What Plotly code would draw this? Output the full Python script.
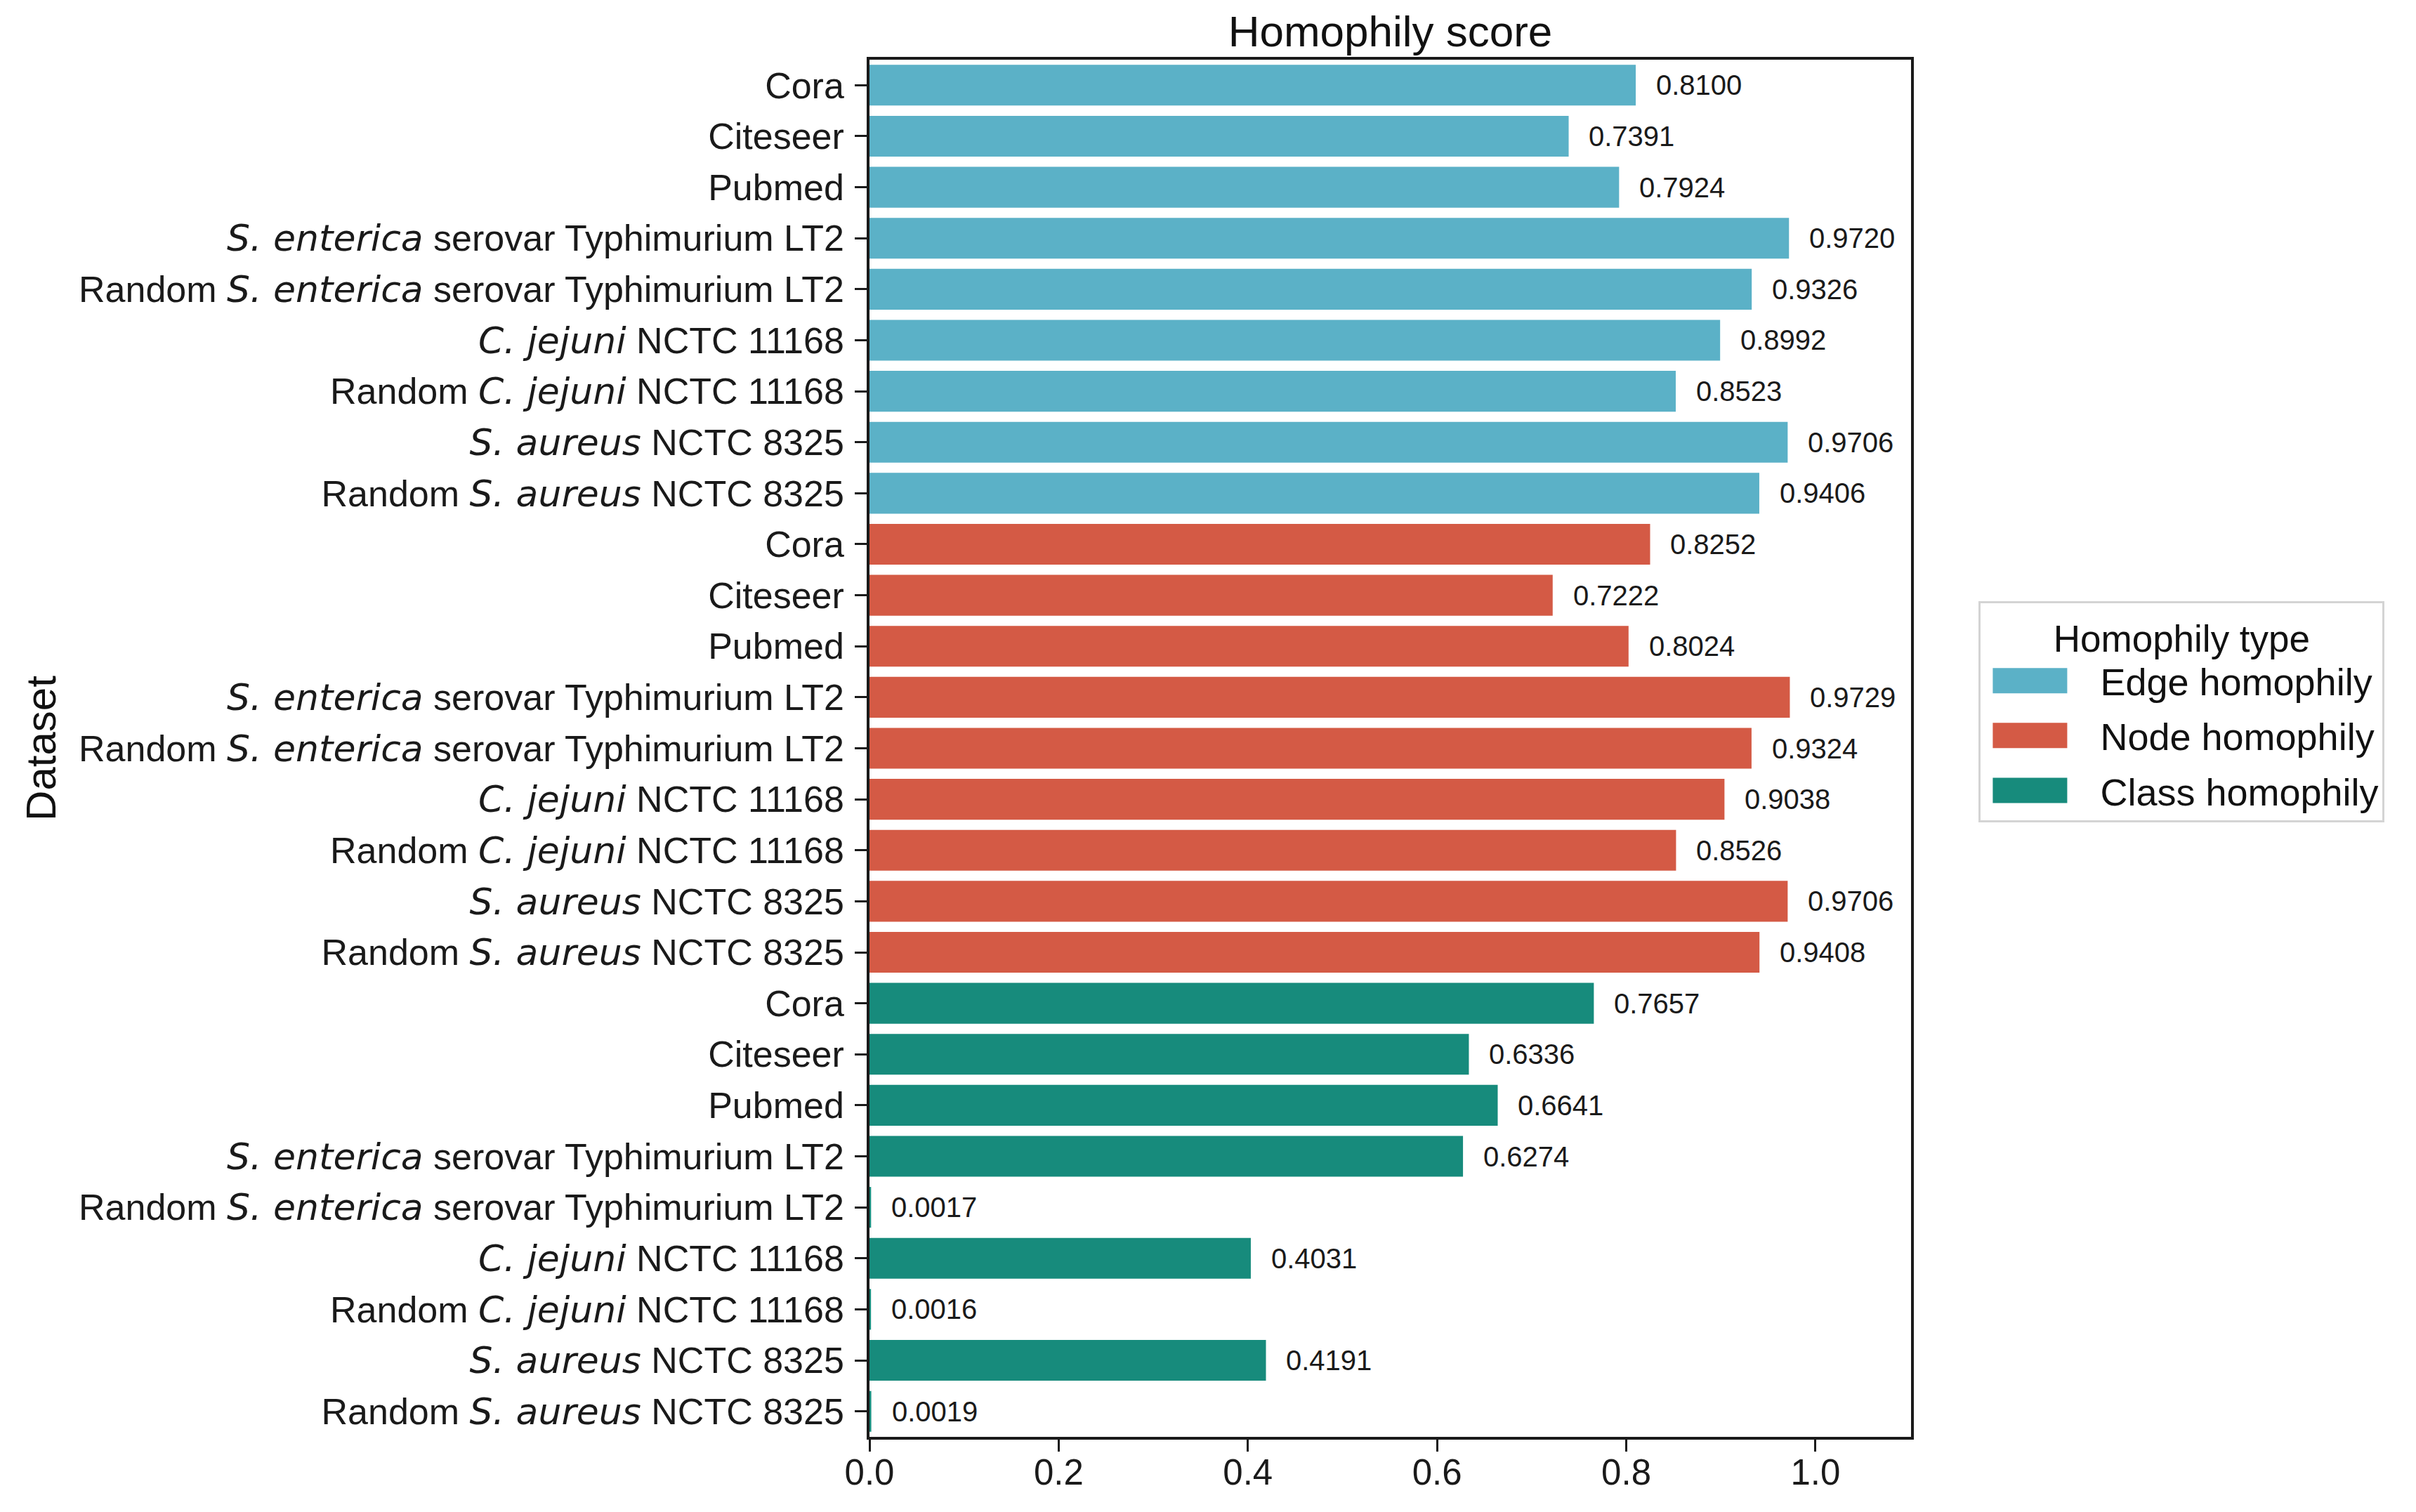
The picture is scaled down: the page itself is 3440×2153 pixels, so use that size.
import plotly.graph_objects as go

# ---------------- data ----------------
datasets = [
    "Cora",
    "Citeseer",
    "Pubmed",
    "<span style=\"font-family:DejaVu Sans;font-style:italic\">S. enterica</span> serovar Typhimurium LT2",
    "Random <span style=\"font-family:DejaVu Sans;font-style:italic\">S. enterica</span> serovar Typhimurium LT2",
    "<span style=\"font-family:DejaVu Sans;font-style:italic\">C. jejuni</span> NCTC 11168",
    "Random <span style=\"font-family:DejaVu Sans;font-style:italic\">C. jejuni</span> NCTC 11168",
    "<span style=\"font-family:DejaVu Sans;font-style:italic\">S. aureus</span> NCTC 8325",
    "Random <span style=\"font-family:DejaVu Sans;font-style:italic\">S. aureus</span> NCTC 8325",
]
homophily_types = ["Edge homophily", "Node homophily", "Class homophily"]
edge_values = [0.8100, 0.7391, 0.7924, 0.9720, 0.9326, 0.8992, 0.8523, 0.9706, 0.9406]
node_values = [0.8252, 0.7222, 0.8024, 0.9729, 0.9324, 0.9038, 0.8526, 0.9706, 0.9408]
class_values = [0.7657, 0.6336, 0.6641, 0.6274, 0.0017, 0.4031, 0.0016, 0.4191, 0.0019]
x_ticks = [0.0, 0.2, 0.4, 0.6, 0.8, 1.0]
colors = ["#5BB1C7", "#D45A45", "#178B7C"]

series = [edge_values, node_values, class_values]

FONT = "Liberation Sans, Arial, sans-serif"
W, H = 3440, 2153
L, R, T, B = 1238, 719, 85, 107

fig = go.Figure()
n = len(datasets)
all_pos = []
all_text = []
for gi, (name, vals, col) in enumerate(zip(homophily_types, series, colors)):
    pos = [gi * n + i for i in range(n)]
    all_pos += pos
    all_text += datasets
    fig.add_trace(go.Bar(
        x=vals, y=pos, orientation="h", name=name, legendgroup=name,
        marker=dict(color=col, line=dict(width=0)),
        hoverinfo="x",
    ))
    for p, v in zip(pos, vals):
        fig.add_annotation(
            x=v + 0.02, y=p, xref="x", yref="y", text=f"{v:.4f}",
            showarrow=False, xanchor="left", yanchor="middle",
            font=dict(family=FONT, size=40, color="#1a1a1a"),
        )

fig.update_layout(
    width=W, height=H,
    margin=dict(l=L, r=R, t=T, b=B, pad=0),
    paper_bgcolor="white", plot_bgcolor="white",
    barmode="overlay", bargap=0.2,
    font=dict(family=FONT, size=52, color="#1a1a1a"),
    title=dict(text="Homophily score", x=0.5, xref="paper", xanchor="center",
               y=1, yref="paper", yanchor="bottom", pad=dict(b=19),
               font=dict(family=FONT, size=62, color="#111111")),
    xaxis=dict(range=[0, 1.101], tickvals=x_ticks, tickformat=".1f",
               showgrid=False, zeroline=False, showline=True, mirror=True,
               linecolor="#1a1a1a", linewidth=3.5, ticks="outside", ticklen=17,
               tickwidth=3, tickcolor="#1a1a1a", ticklabelstandoff=-14,
               tickfont=dict(family=FONT, size=51, color="#1a1a1a")),
    yaxis=dict(range=[len(all_pos) - 0.5, -0.5], tickvals=all_pos, ticktext=all_text,
               showgrid=False, zeroline=False, showline=True, mirror=True,
               linecolor="#1a1a1a", linewidth=3.5, ticks="outside", ticklen=17,
               tickwidth=3, tickcolor="#1a1a1a", ticklabelstandoff=5,
               tickfont=dict(family=FONT, size=52, color="#1a1a1a"),
               title=dict(text="Dataset", standoff=14,
                          font=dict(family=FONT, size=60, color="#111111"))),
    legend=dict(x=1.065, xanchor="left", y=0.607, yanchor="top",
                bgcolor="white", bordercolor="#d4d4d4", borderwidth=3,
                itemwidth=160, tracegroupgap=5,
                font=dict(family=FONT, size=54, color="#111111"),
                title=dict(text="Homophily type", side="top center",
                           font=dict(family=FONT, size=53, color="#111111"))),
    showlegend=True,
)

post = """
try { document.body.style.margin = '0'; } catch (e) {}
(function () {
  var gd = document.getElementById('{plot_id}');
  function fixLegend() {
    try {
      var paths = gd.querySelectorAll('g.legendpoints path');
      for (var i = 0; i < paths.length; i++) {
        paths[i].setAttribute('d', 'M38,18H-68V-18H38Z');
      }
    } catch (e) {}
  }
  fixLegend();
  var k = 0;
  var timer = setInterval(function () { fixLegend(); k += 1; if (k > 60) { clearInterval(timer); } }, 100);
  try { gd.on('plotly_afterplot', fixLegend); } catch (e) {}
})();
"""

fig.write_html("out.html", post_script=post, config={"displayModeBar": False})
